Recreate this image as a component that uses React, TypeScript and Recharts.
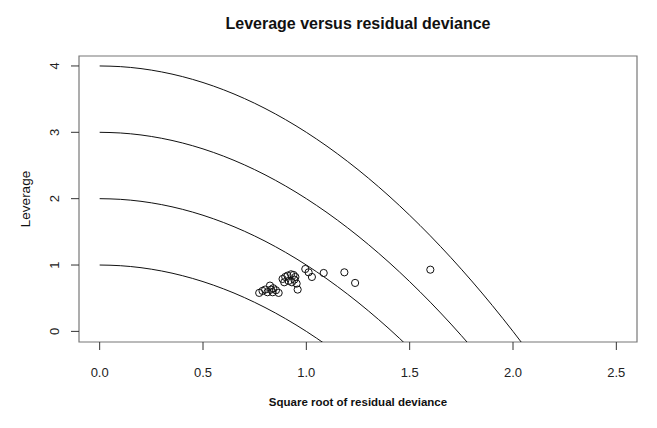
import {
  ComposedChart,
  Line,
  ReferenceArea,
  Scatter,
  XAxis,
  YAxis,
} from "recharts";

const xTicks = [0, 0.5, 1, 1.5, 2, 2.5];
const yTicks = [0, 1, 2, 3, 4];

// sample positions along the x axis for the four contour curves
const curveX = [0, 0.1, 0.2, 0.3, 0.4, 0.5, 0.6, 0.7, 0.8, 0.9, 1.0, 1.1, 1.2, 1.3, 1.4, 1.5, 1.6, 1.7, 1.8, 1.9, 2.0, 2.1];
const curve1 = [1, 0.99, 0.96, 0.91, 0.84, 0.75, 0.64, 0.51, 0.36, 0.19, 0, -0.21];
const curve2 = [2, 1.99, 1.96, 1.91, 1.84, 1.75, 1.64, 1.51, 1.36, 1.19, 1, 0.79, 0.56, 0.31, 0.04, -0.25];
const curve3 = [3, 2.99, 2.96, 2.91, 2.84, 2.75, 2.64, 2.51, 2.36, 2.19, 2, 1.79, 1.56, 1.31, 1.04, 0.75, 0.44, 0.11, -0.24];
const curve4 = [4, 3.99, 3.96, 3.91, 3.84, 3.75, 3.64, 3.51, 3.36, 3.19, 3, 2.79, 2.56, 2.31, 2.04, 1.75, 1.44, 1.11, 0.76, 0.39, 0, -0.41];

// observations
const devianceRoot = [
  0.772, 0.788, 0.801, 0.812, 0.824, 0.829, 0.84, 0.853, 0.866, 0.837,
  0.885, 0.898, 0.909, 0.926, 0.938, 0.947, 0.893, 0.914, 0.93, 0.942, 0.953, 0.958,
  0.995, 1.011, 1.027, 1.084, 1.184, 1.236, 1.6,
];
const leverage = [
  0.58, 0.61, 0.63, 0.59, 0.69, 0.63, 0.65, 0.62, 0.58, 0.59,
  0.79, 0.82, 0.84, 0.86, 0.85, 0.82, 0.74, 0.76, 0.74, 0.78, 0.72, 0.63,
  0.94, 0.89, 0.82, 0.88, 0.89, 0.73, 0.93,
];

const curves = [curve1, curve2, curve3, curve4].map((ys) =>
  ys.map((y, i) => ({ x: curveX[i], y }))
);
const points = devianceRoot.map((x, i) => ({ x, y: leverage[i] }));

const FONT = "'Liberation Sans', Arial, sans-serif";

function XTick({ x, payload }: any) {
  return (
    <text x={x} y={372} textAnchor="middle" dominantBaseline="central" fontSize={13} fontFamily={FONT} fill="#222">
      {Number(payload.value).toFixed(1)}
    </text>
  );
}

function YTick({ y, payload }: any) {
  return (
    <text
      x={55}
      y={y}
      textAnchor="middle"
      dominantBaseline="central"
      fontSize={13}
      fontFamily={FONT}
      fill="#222"
      transform={`rotate(-90, 55, ${y})`}
    >
      {payload.value}
    </text>
  );
}

function Ring({ cx, cy }: any) {
  return <circle cx={cx} cy={cy} r={3.6} fill="none" stroke="#111" strokeWidth={1} />;
}

export default function App() {
  return (
    <div style={{ position: "absolute", left: 0, top: 0, width: 657, height: 428, background: "#fff" }}>
      <div
        style={{
          position: "absolute",
          left: 79,
          width: 558,
          top: 15,
          textAlign: "center",
          fontFamily: FONT,
          fontWeight: "bold",
          fontSize: 16,
          color: "#111",
        }}
      >
        Leverage versus residual deviance
      </div>
      <div
        style={{
          position: "absolute",
          left: 79,
          width: 558,
          top: 396,
          textAlign: "center",
          fontFamily: FONT,
          fontWeight: "bold",
          fontSize: 11.5,
          color: "#111",
        }}
      >
        Square root of residual deviance
      </div>
      <div
        style={{
          position: "absolute",
          left: 25,
          top: 199,
          transform: "translate(-50%, -50%) rotate(-90deg)",
          fontFamily: FONT,
          fontSize: 13.5,
          color: "#111",
          whiteSpace: "nowrap",
        }}
      >
        Leverage
      </div>
      <ComposedChart width={657} height={428} margin={{ top: 56, right: 20, bottom: 36, left: 19 }}>
        <XAxis
          type="number"
          dataKey="x"
          domain={[-0.1, 2.6]}
          ticks={xTicks}
          tick={<XTick />}
          tickSize={8}
          tickLine={{ stroke: "#333" }}
          axisLine={false}
          height={50}
          allowDataOverflow
        />
        <YAxis
          type="number"
          dataKey="y"
          domain={[-0.16, 4.15]}
          ticks={yTicks}
          tick={<YTick />}
          tickSize={8}
          tickLine={{ stroke: "#333" }}
          axisLine={false}
          width={60}
          allowDataOverflow
        />
        <ReferenceArea x1={-0.1} x2={2.6} y1={-0.16} y2={4.15} fill="none" stroke="#777" strokeWidth={1.2} />
        {curves.map((data, i) => (
          <Line
            key={i}
            data={data}
            dataKey="y"
            type="monotone"
            stroke="#111"
            strokeWidth={1}
            dot={false}
            activeDot={false}
            isAnimationActive={false}
          />
        ))}
        <Scatter data={points} dataKey="y" shape={<Ring />} isAnimationActive={false} />
      </ComposedChart>
    </div>
  );
}
